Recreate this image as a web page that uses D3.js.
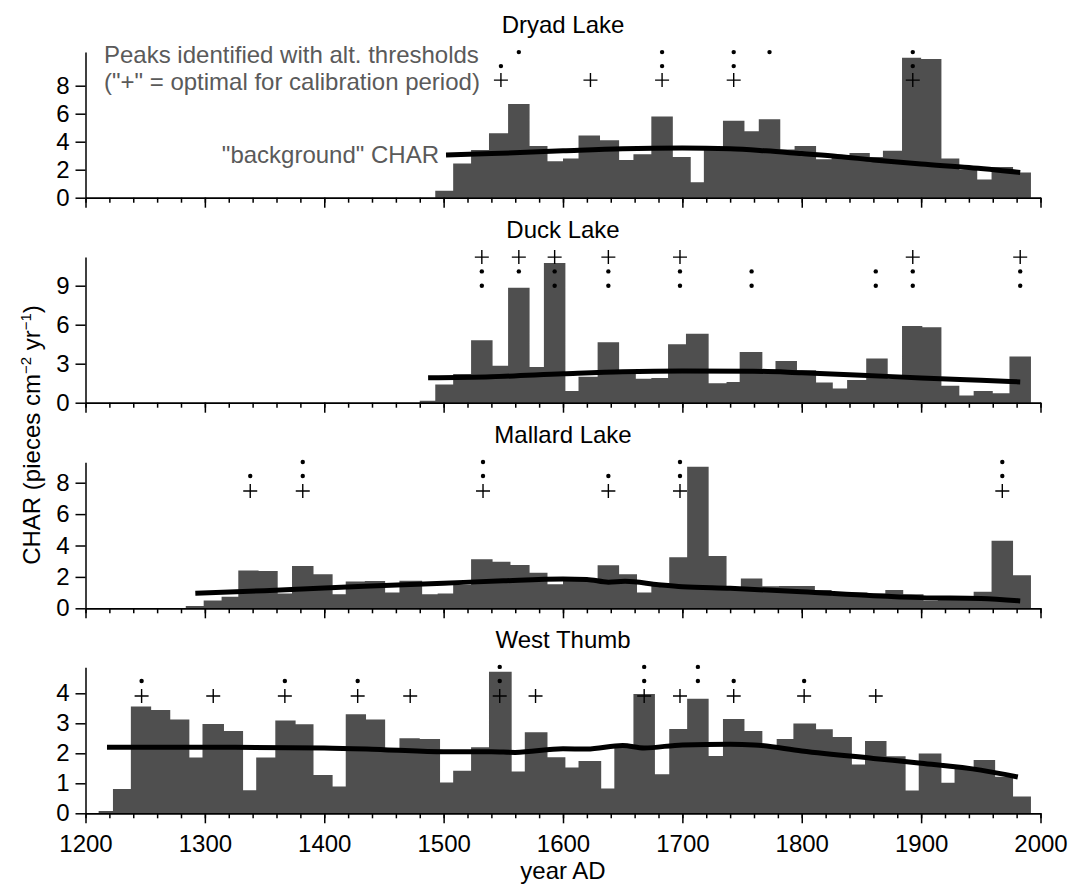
<!DOCTYPE html>
<html lang="en">
<head>
<meta charset="utf-8">
<title>CHAR records</title>
<style>
  body { margin: 0; background: #fff; }
  text { font-family: Arial, "Liberation Sans", sans-serif; }
  .axis path, .axis line { stroke: #000; stroke-width: 1.5px; }
  .axis text { fill: #000; }
</style>
</head>
<body>
<div id="chart"></div>
<script src="https://cdn.jsdelivr.net/npm/d3@7/dist/d3.min.js"></script>
<script>
// ---- data ----
var lakeNames = ["Dryad Lake", "Duck Lake", "Mallard Lake", "West Thumb"];
var yMax = [10.4, 11.2, 9.3, 4.87];
var yTicks = [[0, 2, 4, 6, 8], [0, 3, 6, 9], [0, 2, 4, 6, 8], [0, 1, 2, 3, 4]];
var xTickLabels = [1200, 1300, 1400, 1500, 1600, 1700, 1800, 1900, 2000];

// bin edges (years AD) and CHAR per bin
var dryadEdges = [1493,1508,1523,1538,1554,1572,1587,1600,1613,1631,1647,1659,1674,1692,1707,1718,1734,1752,1764,1782,1794,1812,1825,1840,1857,1868,1884,1900,1917,1932,1947,1959,1977,1992];
var dryadChar = [0.5,2.45,3.4,4.6,6.7,3.7,2.6,2.8,4.45,4.1,2.7,3.1,5.8,2.9,1.1,3.5,5.5,4.75,5.6,3.45,3.7,2.75,3.0,3.2,2.9,3.35,10.0,9.9,2.8,2.0,1.3,2.2,1.8];

var duckEdges = [1480,1493,1508,1523,1541,1554,1572,1584,1602,1613,1629,1647,1661,1674,1688,1703,1722,1737,1748,1767,1778,1796,1812,1826,1838,1854,1872,1884,1901,1917,1932,1944,1960,1974,1992];
var duckChar = [0.15,1.4,2.2,4.8,2.85,8.85,2.75,10.75,0.9,2.0,4.65,2.4,1.85,1.9,4.5,5.3,1.5,1.6,3.9,2.4,3.2,2.5,1.55,1.1,1.75,3.4,1.85,5.9,5.8,1.3,0.55,0.9,0.72,3.55];

var mallardEdges = [1284,1299,1314,1328,1345,1361,1373,1391,1407,1418,1434,1451,1463,1482,1495,1508,1523,1541,1556,1572,1587,1600,1613,1629,1647,1662,1674,1689,1704,1722,1737,1749,1767,1781,1796,1811,1825,1839,1855,1870,1885,1902,1914,1929,1944,1959,1977,1992];
var mallardChar = [0.15,0.5,0.74,2.4,2.38,0.95,2.7,2.17,0.9,1.7,1.74,1.0,1.76,0.9,0.95,1.49,3.12,2.97,2.76,2.27,1.53,1.85,1.8,2.74,2.17,1.0,1.5,3.25,9.02,3.33,1.3,1.9,1.4,1.42,1.42,1.17,0.8,1.0,0.95,1.17,0.9,0.5,0.78,0.75,1.06,4.3,2.1];

var wtEdges = [1211,1223,1238,1255,1271,1287,1298,1316,1332,1343,1359,1376,1391,1407,1418,1435,1451,1463,1480,1497,1508,1523,1538,1557,1568,1587,1602,1613,1632,1643,1659,1677,1689,1704,1722,1734,1752,1767,1779,1793,1812,1826,1842,1853,1871,1887,1898,1917,1928,1944,1962,1977,1992];
var wtChar = [0.08,0.81,3.56,3.44,3.13,1.86,2.98,2.74,0.77,1.86,3.09,2.97,1.28,0.89,3.3,3.13,2.15,2.5,2.48,1.03,1.42,2.2,4.72,1.39,2.7,1.87,1.53,1.74,0.83,2.2,3.98,1.3,2.81,3.82,1.91,3.14,2.74,2.28,2.48,2.99,2.8,2.54,1.63,2.41,1.9,0.76,1.99,1.02,1.5,1.78,1.22,0.56];

// "background" CHAR
var dryadBgYears = [1502,1540,1600,1650,1700,1740,1770,1800,1830,1860,1900,1940,1983];
var dryadBgChar = [3.05,3.15,3.35,3.5,3.55,3.5,3.35,3.15,2.95,2.7,2.4,2.15,1.8];
var duckBgYears = [1487,1540,1600,1650,1700,1760,1800,1850,1900,1950,1983];
var duckBgChar = [1.92,2.0,2.22,2.38,2.44,2.42,2.3,2.12,1.9,1.72,1.6];
var mallardBgYears = [1292,1350,1400,1450,1500,1550,1600,1620,1638,1652,1680,1700,1740,1800,1860,1900,1950,1983];
var mallardBgChar = [0.96,1.12,1.3,1.45,1.6,1.75,1.86,1.84,1.66,1.72,1.5,1.37,1.27,1.06,0.8,0.68,0.62,0.47];
var wtBgYears = [1218,1300,1400,1450,1500,1540,1560,1600,1620,1650,1668,1700,1740,1760,1800,1860,1900,1950,1981];
var wtBgChar = [2.2,2.2,2.18,2.12,2.05,2.05,2.03,2.15,2.14,2.26,2.18,2.28,2.3,2.28,2.08,1.83,1.67,1.44,1.21];

// peaks: "+" = optimal threshold, dots = alternative thresholds
var dryadPlus = [1548,1623,1683,1743,1893];
var dryadDot1 = [1548,1683,1743,1893];
var dryadDot2 = [1563,1683,1743,1773,1893];
var duckPlus = [1532,1563,1593,1638,1698,1893,1983];
var duckDot1 = [1532,1563,1593,1638,1698,1758,1862,1893,1983];
var duckDot2 = [1532,1593,1638,1698,1758,1862,1893,1983];
var mallardPlus = [1338,1382,1533,1638,1698,1968];
var mallardDot1 = [1338,1382,1533,1638,1698,1968];
var mallardDot2 = [1382,1533,1698,1968];
var wtPlus = [1247,1307,1367,1428,1472,1547,1577,1668,1698,1743,1802,1862];
var wtDot1 = [1247,1367,1428,1547,1668,1713,1743,1802];
var wtDot2 = [1547,1668,1713];

// row heights (CHAR units) of the marker rows: [plus, dot1, dot2]
var dryadRows = [8.4, 9.4, 10.4];
var duckRows = [11.2, 10.1, 9.0];
var mallardRows = [7.47, 8.43, 9.32];
var wtRows = [3.91, 4.41, 4.88];

// ---- layout ----
var width = 1069, height = 886;
var plotLeft = 85.5, plotRight = 1040.5;
var panelBottom = [197.7, 402.7, 608.3, 813.3];
var panelTop = [52.1, 257.1, 462.3, 667.2];
var barColor = "#4f4f4f", noteColor = "#5a5a5a";
var fontSize = 24;
var fontFamily = "Arial, 'Liberation Sans', sans-serif";

var panels = [
  {edges: dryadEdges, vals: dryadChar, bgX: dryadBgYears, bgY: dryadBgChar, plus: dryadPlus, dot1: dryadDot1, dot2: dryadDot2, rows: dryadRows},
  {edges: duckEdges, vals: duckChar, bgX: duckBgYears, bgY: duckBgChar, plus: duckPlus, dot1: duckDot1, dot2: duckDot2, rows: duckRows},
  {edges: mallardEdges, vals: mallardChar, bgX: mallardBgYears, bgY: mallardBgChar, plus: mallardPlus, dot1: mallardDot1, dot2: mallardDot2, rows: mallardRows},
  {edges: wtEdges, vals: wtChar, bgX: wtBgYears, bgY: wtBgChar, plus: wtPlus, dot1: wtDot1, dot2: wtDot2, rows: wtRows}
];

var svg = d3.select("#chart").append("svg")
    .attr("width", width)
    .attr("height", height);

var x = d3.scaleLinear().domain([1200, 2000]).range([plotLeft, plotRight]);

panels.forEach(function(p, i) {
  var y = d3.scaleLinear().domain([0, yMax[i]]).range([panelBottom[i], panelTop[i]]);
  var g = svg.append("g");

  // histogram bars as one stepped area
  var pts = p.vals.map(function(v, k) { return [p.edges[k], v]; });
  pts.push([p.edges[p.edges.length - 1], p.vals[p.vals.length - 1]]);
  var area = d3.area()
      .x(function(d) { return x(d[0]); })
      .y0(y(0))
      .y1(function(d) { return y(d[1]); })
      .curve(d3.curveStepAfter);
  g.append("path")
      .datum(pts)
      .attr("d", area)
      .attr("fill", barColor);

  // background CHAR
  var line = d3.line()
      .x(function(d, k) { return x(p.bgX[k]); })
      .y(function(d) { return y(d); })
      .curve(d3.curveMonotoneX);
  g.append("path")
      .datum(p.bgY)
      .attr("d", line)
      .attr("fill", "none")
      .attr("stroke", "#000")
      .attr("stroke-width", 5);

  // peak markers
  g.selectAll(".plus")
    .data(p.plus)
    .enter().append("path")
      .attr("class", "plus")
      .attr("d", function(d) {
        var cx = x(d), cy = y(p.rows[0]);
        return "M" + (cx - 7) + "," + cy + "H" + (cx + 7) + "M" + cx + "," + (cy - 7) + "V" + (cy + 7);
      })
      .attr("stroke", "#000")
      .attr("stroke-width", 1.4);
  [p.dot1, p.dot2].forEach(function(arr, r) {
    g.selectAll(".dot" + r)
      .data(arr)
      .enter().append("circle")
        .attr("class", "dot" + r)
        .attr("cx", function(d) { return x(d); })
        .attr("cy", y(p.rows[r + 1]))
        .attr("r", 2.2)
        .attr("fill", "#000");
  });

  // axes
  var yAxis = g.append("g")
      .attr("class", "axis")
      .attr("transform", "translate(" + plotLeft + ",0)")
      .call(d3.axisLeft(y).tickValues(yTicks[i]).tickFormat(d3.format("d"))
        .tickSize(10).tickSizeOuter(0).tickPadding(6));
  yAxis.attr("font-size", fontSize).attr("font-family", fontFamily);

  g.append("g")
      .attr("class", "axis")
      .attr("transform", "translate(0," + y(0) + ")")
      .call(d3.axisBottom(x).tickValues(d3.range(1200, 2001, 20)).tickSize(5).tickSizeOuter(0).tickFormat(""));
  var major = g.append("g")
      .attr("class", "axis")
      .attr("transform", "translate(0," + y(0) + ")")
      .call(d3.axisBottom(x).tickValues(xTickLabels).tickSize(10).tickSizeOuter(0).tickPadding(12)
        .tickFormat(i === panels.length - 1 ? d3.format("d") : ""));
  major.attr("font-size", fontSize).attr("font-family", fontFamily);

  // title
  svg.append("text")
      .attr("x", (plotLeft + plotRight) / 2)
      .attr("y", panelTop[i] - 19)
      .attr("text-anchor", "middle")
      .attr("font-size", fontSize)
      .text(lakeNames[i]);
});

// annotations in the top panel
svg.append("text")
    .attr("x", 104).attr("y", 63)
    .attr("font-size", fontSize).attr("fill", noteColor)
    .text("Peaks identified with alt. thresholds");
svg.append("text")
    .attr("x", 104).attr("y", 90)
    .attr("font-size", fontSize).attr("fill", noteColor)
    .text("(\"+\" = optimal for calibration period)");
svg.append("text")
    .attr("x", 439).attr("y", 163)
    .attr("text-anchor", "end")
    .attr("font-size", fontSize).attr("fill", noteColor)
    .text("\"background\" CHAR");

// axis titles
svg.append("text")
    .attr("x", (plotLeft + plotRight) / 2)
    .attr("y", 879)
    .attr("text-anchor", "middle")
    .attr("font-size", fontSize)
    .text("year AD");

var yl = svg.append("text")
    .attr("transform", "translate(40,435) rotate(-90)")
    .attr("text-anchor", "middle")
    .attr("font-size", 24);
yl.append("tspan").text("CHAR (pieces cm");
yl.append("tspan").attr("dy", -9).attr("font-size", 15).text("\u22122");
yl.append("tspan").attr("dy", 9).text(" yr");
yl.append("tspan").attr("dy", -9).attr("font-size", 15).text("\u22121");
yl.append("tspan").attr("dy", 9).text(")");
</script>
</body>
</html>
